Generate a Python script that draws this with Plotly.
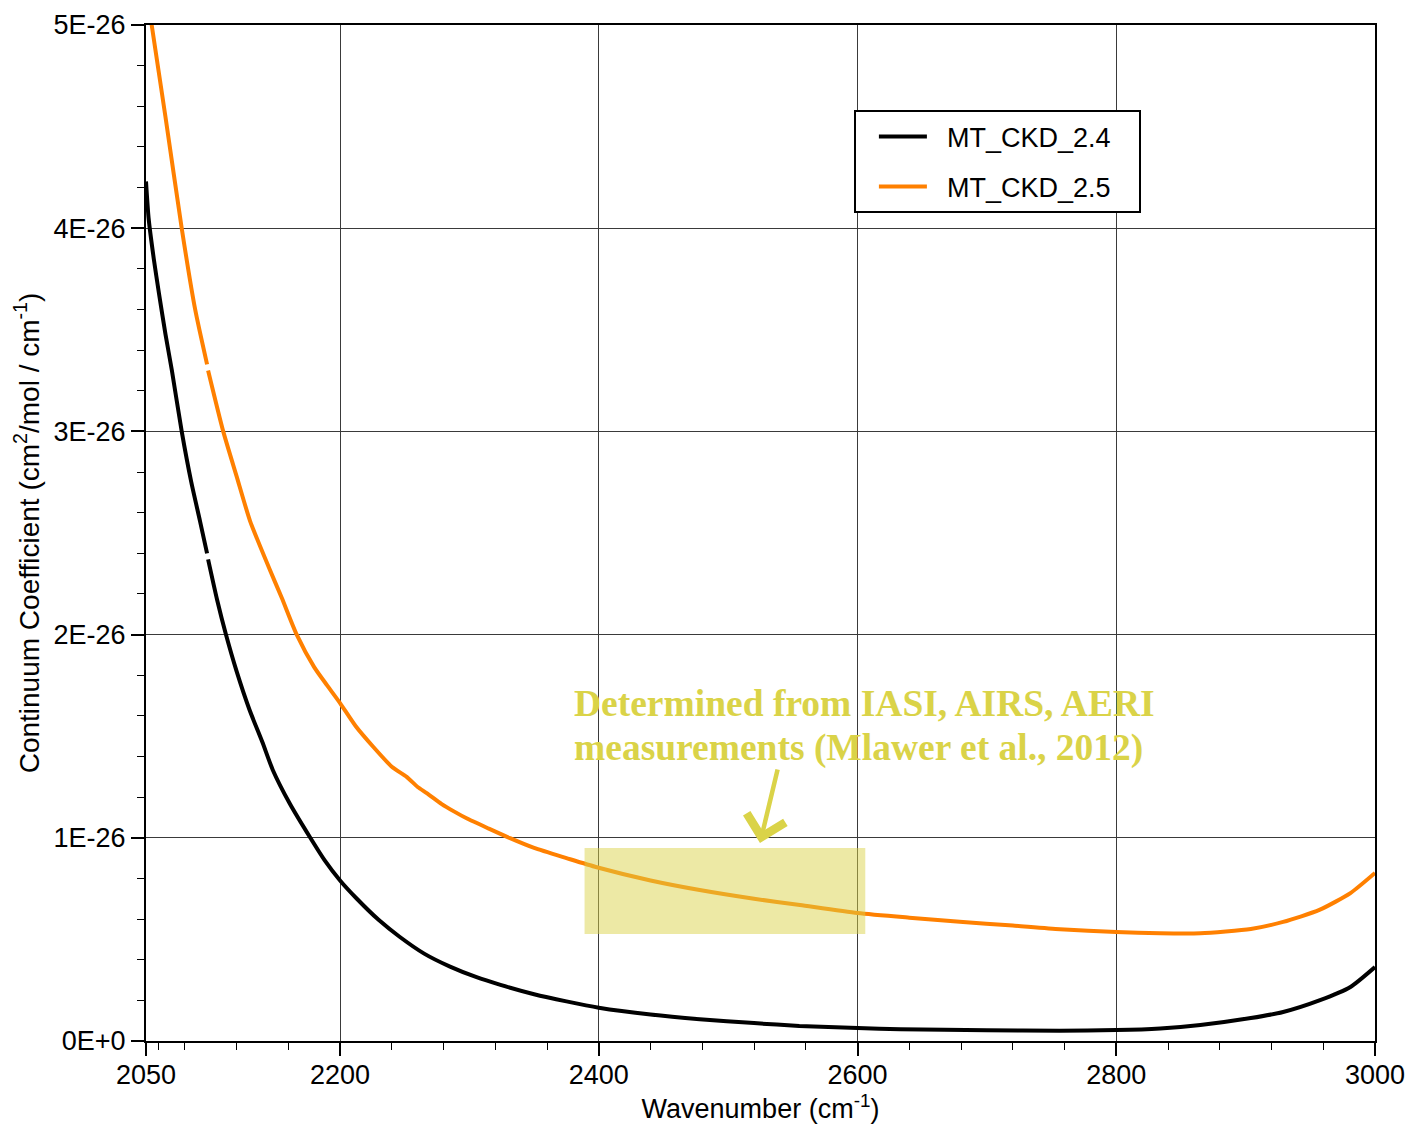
import plotly.graph_objects as go

# ---- data (y values in units of 1E-26 cm2/mol / cm-1) ----
x_ckd24 = [2050, 2052, 2056, 2060, 2065, 2070, 2077.6, 2085, 2091.7, 2097.2, None,
           2098, 2105, 2111.8, 2120, 2130, 2140, 2148, 2161, 2177, 2188, 2200, 2213,
           2230, 2246, 2265, 2285, 2305, 2324, 2350, 2375, 2400, 2440, 2478, 2520,
           2555, 2600, 2633, 2700, 2756, 2800, 2834, 2865, 2904, 2929, 2957, 2981, 3000]
y_ckd24 = [4.23, 4.05, 3.85, 3.68, 3.48, 3.30, 3.00, 2.75, 2.56, 2.40, None,
           2.37, 2.17, 2.00, 1.82, 1.63, 1.47, 1.334, 1.17, 1.00, 0.89, 0.79, 0.70,
           0.595, 0.513, 0.43, 0.366, 0.315, 0.276, 0.23, 0.195, 0.164, 0.13, 0.107, 0.088,
           0.074, 0.064, 0.058, 0.053, 0.051, 0.054, 0.062, 0.079, 0.113, 0.143, 0.20, 0.266, 0.364]

x_ckd25 = [2050, 2054.4, 2065, 2077.6, 2088, 2097.2, None,
           2098, 2109.7, 2120, 2130.4, 2145, 2155, 2166.5, 2180, 2190, 2200, 2212,
           2225.6, 2240, 2251.5, 2260, 2267, 2278.6, 2288, 2297.8, 2315, 2331.4, 2350,
           2375, 2398.4, 2440, 2478, 2520, 2555.5, 2600, 2640, 2679, 2720, 2756.5,
           2800, 2834, 2865, 2904, 2929, 2957, 2981, 3000]
y_ckd25 = [5.19, 5.00, 4.55, 4.00, 3.60, 3.33, None,
           3.30, 3.00, 2.78, 2.56, 2.33, 2.18, 2.00, 1.84, 1.75, 1.663, 1.55,
           1.448, 1.35, 1.30, 1.25, 1.22, 1.166, 1.13, 1.096, 1.045, 0.998, 0.95,
           0.90, 0.855, 0.79, 0.743, 0.70, 0.669, 0.63, 0.607, 0.587, 0.568, 0.55,
           0.537, 0.53, 0.53, 0.551, 0.586, 0.645, 0.728, 0.827]

series_names = ["MT_CKD_2.4", "MT_CKD_2.5"]

x_tickvals = [2050, 2200, 2400, 2600, 2800, 3000]
x_ticktext = ["2050", "2200", "2400", "2600", "2800", "3000"]
x_minor = [2060] + list(range(2080, 3001, 40))
y_tickvals = [0, 1, 2, 3, 4, 5]
y_ticktext = ["0E+0", "1E-26", "2E-26", "3E-26", "4E-26", "5E-26"]

# highlighted region (wavenumber, coefficient)
region_x = [2389, 2606]
region_y = [0.527, 0.95]
note_lines = ["Determined from IASI, AIRS, AERI", "measurements (Mlawer et al., 2012)"]

FONT = "Liberation Sans, Arial, Helvetica, sans-serif"
NOTE_COLOR = "rgb(218,211,72)"
NB = "\u00a0"

fig = go.Figure()
fig.add_trace(go.Scatter(x=x_ckd24, y=y_ckd24, mode="lines", name=NB * 2 + series_names[0] + NB * 3,
                         line=dict(color="black", width=4, shape="spline", smoothing=0.6),
                         legendgroup="a", connectgaps=False))
fig.add_trace(go.Scatter(x=x_ckd25, y=y_ckd25, mode="lines", name=NB * 2 + series_names[1] + NB * 3,
                         line=dict(color="#ff8000", width=4, shape="spline", smoothing=0.6),
                         legendgroup="b", connectgaps=False))

fig.add_shape(type="rect", xref="x", yref="y",
              x0=region_x[0], x1=region_x[1], y0=region_y[0], y1=region_y[1],
              fillcolor="rgb(218,210,71)", opacity=0.49, line_width=0, layer="above")

for txt, yy in zip(note_lines, [1.663, 1.442]):
    fig.add_annotation(x=2379.3, y=yy, xref="x", yref="y", text="<b>%s</b>" % txt,
                       showarrow=False, xanchor="left", yanchor="middle",
                       font=dict(family="Liberation Serif, Times New Roman, serif", size=37.5,
                                 color=NOTE_COLOR))
fig.add_annotation(x=2524.6, y=0.974, xref="x", yref="y", ax=2538.5, ay=1.343,
                   axref="x", ayref="y", text="", showarrow=True,
                   arrowhead=4, arrowsize=1.7, arrowwidth=4.5, arrowcolor=NOTE_COLOR)

axis_common = dict(showline=True, linecolor="black", linewidth=2, mirror=True,
                   ticks="outside", ticklen=13, tickwidth=1.5, tickcolor="black",
                   showgrid=True, gridcolor="#3a3a3a", gridwidth=1, zeroline=False,
                   tickfont=dict(family=FONT, size=27, color="black"))

fig.update_xaxes(range=[2050, 3000], tickmode="array", tickvals=x_tickvals, ticktext=x_ticktext,
                 ticklabelstandoff=-4,
                 minor=dict(tickmode="array", tickvals=x_minor, ticks="outside", ticklen=7,
                            tickcolor="black", tickwidth=1, showgrid=False),
                 title=dict(text="Wavenumber (cm<sup>-1</sup>)", standoff=12,
                            font=dict(family=FONT, size=27, color="black")),
                 **axis_common)
fig.update_yaxes(range=[0, 5], tickmode="array", tickvals=y_tickvals, ticktext=y_ticktext,
                 minor=dict(dtick=0.2, tick0=0, ticks="outside", ticklen=7,
                            tickcolor="black", tickwidth=1, showgrid=False),
                 title=dict(text="Continuum Coefficient (cm<sup>2</sup>/mol / cm<sup>-1</sup>)",
                            standoff=6, font=dict(family=FONT, size=28, color="black")),
                 **axis_common)

fig.update_layout(
    width=1408, height=1124,
    margin=dict(l=146, r=33, t=25, b=83, autoexpand=False),
    paper_bgcolor="white", plot_bgcolor="white",
    showlegend=True,
    legend=dict(x=0.576, y=0.916, xanchor="left", yanchor="top",
                bgcolor="white", bordercolor="black", borderwidth=2,
                font=dict(family=FONT, size=27, color="black"),
                tracegroupgap=12, itemwidth=48, indentation=18, traceorder="grouped"),
)

fig.write_html("out.html")
